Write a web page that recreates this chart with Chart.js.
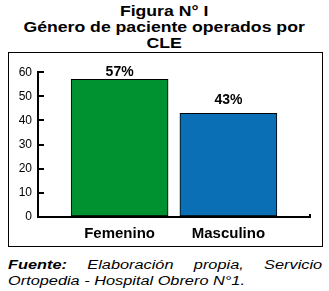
<!DOCTYPE html>
<html>
<head>
<meta charset="utf-8">
<script src="https://cdn.jsdelivr.net/npm/chart.js@4/dist/chart.umd.min.js"></script>
<style>
  body { margin: 0; background: #fff; width: 329px; height: 291px; position: relative; overflow: hidden; }
  .title { position: absolute; left: 0; top: 3px; width: 329px; text-align: center;
           font: bold 14px "Liberation Sans", Arial, sans-serif; line-height: 16px; color: #000; }
  .title span { display: block; transform: scaleX(1.26); transform-origin: 166px 0; }
  .box { position: absolute; left: 8px; top: 52px; width: 313px; height: 193px; border: 1px solid #000; }
  .note { position: absolute; left: 8px; top: 257px; width: 231px; transform: scaleX(1.36); transform-origin: 0 0;
          font: italic 12px "Liberation Sans", Arial, sans-serif; line-height: 16px; color: #000; }
  .note .l1 { display: block; text-align: justify; text-align-last: justify; }
</style>
</head>
<body>
<div class="title">
  <span>Figura N° I</span>
  <span>Género de paciente operados por</span>
  <span>CLE</span>
</div>
<div class="box"><canvas id="bar-chartcanvas" width="313" height="193"></canvas></div>
<div class="note"><span class="l1"><b>Fuente:</b> Elaboración propia, Servicio</span>Ortopedia - Hospital Obrero N°1.</div>

<script>
// Bar chart - genero de pacientes

var categories = ["Femenino", "Masculino"];
var percents = [57, 43];
var yTicks = [0, 10, 20, 30, 40, 50, 60];

var barColors = ["#009130", "#0b6fb5"];
var labelGap = [3, 9];

var xMin = 0.25, xMax = 2.75;

// value labels above the bars
var valueLabels = {
	id: "valueLabels",
	afterDatasetsDraw: function(chart) {
		var ctx = chart.ctx;
		var meta = chart.getDatasetMeta(0);
		ctx.save();
		ctx.font = "bold 14px 'Liberation Sans', Arial, sans-serif";
		ctx.fillStyle = "#000";
		ctx.textAlign = "center";
		ctx.textBaseline = "alphabetic";
		meta.data.forEach(function(bar, i) {
			ctx.fillText(percents[i] + "%", bar.x, bar.y - labelGap[i]);
		});
		ctx.restore();
	}
};

var ctx = document.getElementById("bar-chartcanvas");

var data = {
	labels: categories,
	datasets: [
		{
			data: percents.map(function(v, i) { return { x: i + 1, y: v }; }),
			backgroundColor: barColors,
			borderColor: "#000",
			borderWidth: 1,
			borderSkipped: false,
			barThickness: 97
		}
	]
};

var options = {
	responsive: false,
	animation: false,
	layout: {
		padding: { left: 0, right: 12, top: 16, bottom: 0 }
	},
	plugins: {
		legend: { display: false },
		tooltip: { enabled: false }
	},
	scales: {
		x: {
			type: "linear",
			offset: false,
			bounds: "data",
			min: xMin,
			max: xMax,
			afterBuildTicks: function(axis) {
				var t = categories.map(function(c, i) { return { value: i + 1 }; });
				t.push({ value: xMax });
				axis.ticks = t;
			},
			afterFit: function(axis) { axis.height = 29; },
			ticks: {
				callback: function(v) { return categories[v - 1] || ""; },
				color: "#000",
				padding: 11,
				maxRotation: 0,
				autoSkip: false,
				font: { family: "'Liberation Sans', Arial, sans-serif", size: 15, weight: "bold" }
			},
			grid: {
				offset: false,
				drawOnChartArea: false,
				drawTicks: true,
				tickLength: -3,
				lineWidth: 2,
				color: function(c) { return c.tick && c.tick.value === xMax ? "#000" : "rgba(0,0,0,0)"; }
			},
			border: { display: true, color: "#000", width: 2 }
		},
		y: {
			min: 0,
			max: 60,
			afterBuildTicks: function(axis) {
				axis.ticks = yTicks.map(function(v) { return { value: v }; });
			},
			afterFit: function(axis) { axis.width = 29; },
			ticks: {
				color: "#000",
				padding: 12,
				font: { family: "'Liberation Sans', Arial, sans-serif", size: 12 }
			},
			grid: {
				drawOnChartArea: false,
				drawTicks: true,
				tickLength: -6,
				lineWidth: 2,
				color: "#000"
			},
			border: { display: true, color: "#000", width: 2 }
		}
	}
};

var chart = new Chart(ctx, {
	type: "bar",
	data: data,
	options: options,
	plugins: [valueLabels]
});
</script>
</body>
</html>
